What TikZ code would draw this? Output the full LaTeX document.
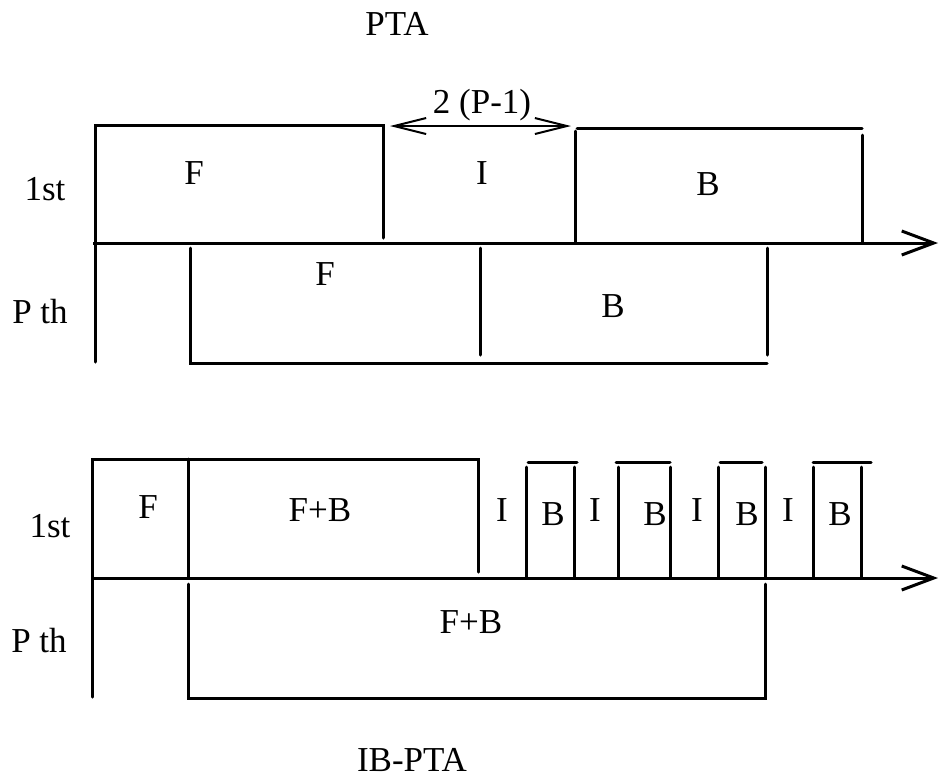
\documentclass[tikz,border=0pt]{standalone}
\usepackage{fontspec}
\setmainfont{Liberation Serif}
\usetikzlibrary{arrows.meta}

\begin{document}
\begin{tikzpicture}[x=1pt, y=-1pt,
  seg/.style={line width=3pt, line cap=round},
  axis/.style={line width=3pt, -{Straight Barb[length=32pt, width=24pt]}},
  span/.style={line width=2pt, {Straight Barb[length=32pt, width=16pt]}-{Straight Barb[length=32pt, width=16pt]}},
  lbl/.style={inner sep=0pt, font=\fontsize{35}{40}\selectfont}
]
\useasboundingbox (0,0) rectangle (940,780);

% PTA
\node[lbl] (ptatitle) at (397,24) {PTA};
\node[lbl] (firstA) at (45,189) {1st};
\node[lbl] (lastA) at (40,312) {P th};

\coordinate (axA0) at (93,243);
\coordinate (axA1) at (938,243);
\draw[axis] (axA0) -- (axA1);

% first processor
\draw[seg] (95,362) -- (95,125) -- (383,125) -- (383,238);
\draw[seg] (577,128) -- (862,128);
\draw[seg] (575,131) -- (575,243);
\draw[seg] (862,135) -- (862,243);
\node[lbl] (fA) at (194,173) {F};
\node[lbl] (iA) at (482,173) {I};
\node[lbl] (bA) at (708,184) {B};

\coordinate (spanL) at (390,126);
\coordinate (spanR) at (571,126);
\draw[span] (spanL) -- (spanR);
\node[lbl] (spanlbl) at (482,105) {2 (P-1)};

% last processor
\draw[seg] (190,248) -- (190,363) -- (767,363);
\draw[seg] (480,248) -- (480,355);
\draw[seg] (767,248) -- (767,355);
\node[lbl] (fAP) at (325,274) {F};
\node[lbl] (bAP) at (613,306) {B};

% IB-PTA
\node[lbl] (ibtitle) at (412,760) {IB-PTA};
\node[lbl] (firstB) at (50,526) {1st};
\node[lbl] (lastB) at (39,641) {P th};

\coordinate (axB0) at (92,578);
\coordinate (axB1) at (938,578);
\draw[axis] (axB0) -- (axB1);

% first processor
\draw[seg] (92,697) -- (92,459) -- (478,459) -- (478,572);
\draw[seg] (188,459) -- (188,578);
\node[lbl] (fB) at (148,507) {F};
\node[lbl] (fbB) at (320,510) {F+B};
\foreach \l/\r/\tl/\tr [count=\k] in {526/574/528/577, 618/670/616/670, 718/765/720/762, 813/861/813/871}{
  \draw[seg] (\tl,462) -- (\tr,462);
  \draw[seg] (\l,467) -- (\l,578);
  \draw[seg] (\r,467) -- (\r,578);
}
\foreach \xi/\xb [count=\k] in {502/553, 595/655, 697/747, 788/840}{
  \node[lbl] (iB\k) at (\xi,510) {I};
  \node[lbl] (bB\k) at (\xb,514) {B};
}

% last processor
\draw[seg] (188,584) -- (188,698) -- (765,698) -- (765,584);
\node[lbl] (fbBP) at (471,622) {F+B};
\end{tikzpicture}
\end{document}
